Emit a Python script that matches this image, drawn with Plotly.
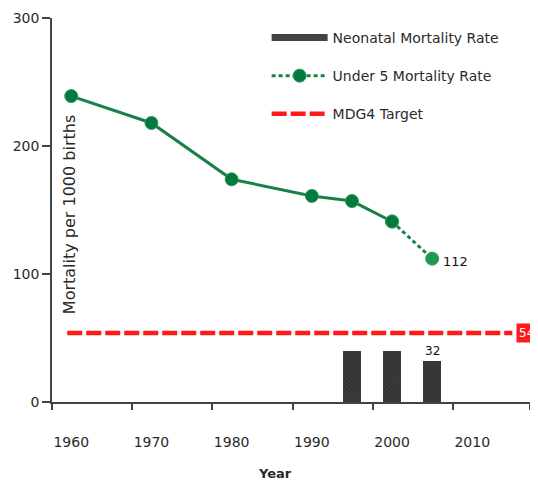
import plotly.graph_objects as go

# ---- data ----
u5_years = [1960, 1970, 1980, 1990, 1995, 2000]
u5_values = [239, 218, 174, 161, 157, 141]
u5_proj_years = [2000, 2005]
u5_proj_values = [141, 112]
neo_years = [1995, 2000, 2005]
neo_values = [40, 40, 32]
target_value = 54
target_span = [1959.5, 2015]
x_label_years = [1960, 1970, 1980, 1990, 2000, 2010]
x_tick_marks = [1957.6, 1967.6, 1977.6, 1987.6, 1997.6, 2007.6, 2017.2]
y_ticks = [0, 100, 200, 300]

FONT = "DejaVu Sans"
TXT = "#2a2a2a"
DARK_GREEN = "#007a3d"
LINE_GREEN = "#1a8048"

fig = go.Figure()

# Neonatal bars
fig.add_trace(go.Bar(
    x=neo_years, y=neo_values, width=2.2,
    marker=dict(color="#3c3c3c", line=dict(width=0),
                pattern=dict(shape="x", fgcolor="#1e1e1e", size=3, solidity=0.4)),
    showlegend=False, hoverinfo="skip"))
# Legend proxy for bars
fig.add_trace(go.Scatter(
    x=[None], y=[None], mode="lines", name="Neonatal Mortality Rate",
    line=dict(color="#444444", width=7), legendgroup="a"))

# Under 5 solid segment
fig.add_trace(go.Scatter(
    x=u5_years, y=u5_values, mode="lines+markers",
    line=dict(color=LINE_GREEN, width=3),
    marker=dict(color=DARK_GREEN, size=13, line=dict(color="#2e9a5a", width=1)),
    showlegend=False))
# Under 5 projected (dashed)
fig.add_trace(go.Scatter(
    x=u5_proj_years, y=u5_proj_values, mode="lines+markers",
    name="Under 5 Mortality Rate",
    line=dict(color=LINE_GREEN, width=3, dash="4px,3px"),
    marker=dict(color=[DARK_GREEN, "#1f9a55"], size=13, line=dict(color="#2e9a5a", width=1)),
    legendgroup="b"))

# MDG4 target
fig.add_trace(go.Scatter(
    x=target_span, y=[target_value, target_value], mode="lines",
    name="MDG4 Target",
    line=dict(color="#ff1a1a", width=4.5, dash="15px,4px"),
    legendgroup="c"))

# tick-mark overlay axis
fig.add_trace(go.Scatter(x=[None], y=[None], xaxis="x2", showlegend=False))

fig.update_layout(
    width=530, height=473,
    margin=dict(l=44, r=8, t=10, b=79),
    paper_bgcolor="white", plot_bgcolor="white",
    font=dict(family=FONT, size=13, color=TXT),
    showlegend=True,
    legend=dict(x=0.449, y=0.99, xanchor="left", yanchor="top",
                bgcolor="rgba(0,0,0,0)", font=dict(size=14, color=TXT),
                tracegroupgap=17, itemwidth=56),
    xaxis=dict(range=[1957.6, 2017.2], tickvals=x_label_years,
               ticktext=[str(v) for v in x_label_years], automargin=False,
               ticks="", showgrid=False, zeroline=False,
               showline=True, linecolor="#444", linewidth=1.5,
               ticklabelstandoff=26, tickfont=dict(size=14, color=TXT)),
    xaxis2=dict(range=[1957.6, 2017.2], overlaying="x", side="bottom",
                anchor="y", tickvals=x_tick_marks, showticklabels=False,
                ticks="outside", ticklen=7, tickcolor="#444", tickwidth=1.5,
                showgrid=False, zeroline=False, showline=False, automargin=False),
    yaxis=dict(range=[0, 300], tickvals=y_ticks, ticks="outside", ticklen=8,
               tickcolor="#444", tickwidth=1.5, showgrid=False, zeroline=False,
               showline=True, linecolor="#444", linewidth=1.5, automargin=False,
               tickfont=dict(size=14, color=TXT)),
    bargap=0,
)

# labels
fig.add_annotation(x=u5_proj_years[-1], y=u5_proj_values[-1], text="112",
                   showarrow=False, xanchor="left", yanchor="middle", xshift=9, yshift=-3,
                   font=dict(size=13, color="#111"))
fig.add_annotation(x=neo_years[-1], y=neo_values[-1], text="32",
                   showarrow=False, xanchor="center", yanchor="bottom", yshift=1,
                   font=dict(size=12, color="#111"))
fig.add_annotation(xref="paper", x=0.971, y=target_value, text=str(target_value),
                   showarrow=False, xanchor="left", yanchor="middle",
                   bgcolor="#ff1a1a", borderpad=2, font=dict(size=12, color="white"))
fig.add_annotation(xref="paper", yref="paper", x=0.038, y=0.487,
                   text="Mortality per 1000 births", textangle=-90, showarrow=False,
                   xanchor="center", yanchor="middle", font=dict(size=16, color=TXT))
fig.add_annotation(xref="paper", yref="paper", x=0.467, y=-0.185, text="<b>Year</b>",
                   showarrow=False, xanchor="center", yanchor="middle",
                   font=dict(size=13, color=TXT))

fig.write_html("out.html")
